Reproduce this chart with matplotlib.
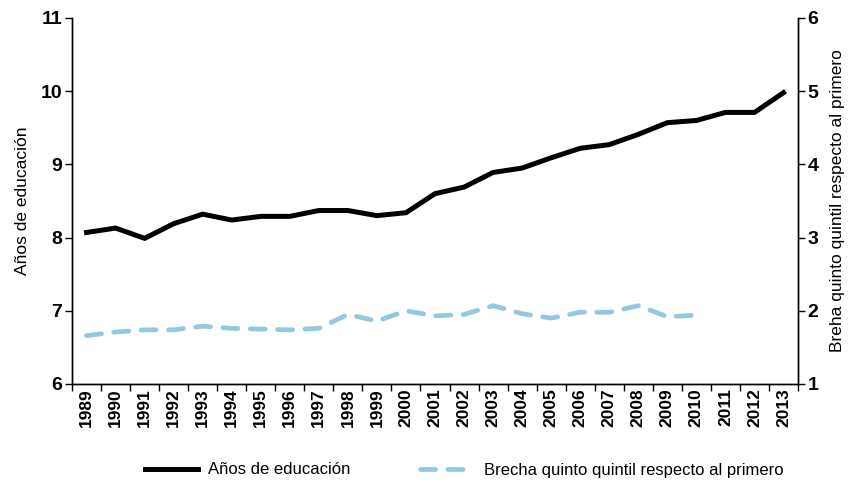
import numpy as np
import matplotlib.pyplot as plt
from matplotlib.lines import Line2D

plt.rcParams['font.family'] = ['Liberation Sans', 'DejaVu Sans']

# Datos
anios = [str(a) for a in range(1989, 2014)]
educacion = [8.07, 8.13, 7.99, 8.19, 8.32, 8.24, 8.29, 8.29, 8.37, 8.37, 8.30, 8.34, 8.60,
             8.69, 8.89, 8.95, 9.09, 9.22, 9.27, 9.41, 9.57, 9.60, 9.71, 9.71, 9.98]
brecha = [1.66, 1.71, 1.74, 1.74, 1.79, 1.76, 1.75, 1.74, 1.76, 1.95, 1.86, 2.00, 1.93,
          1.95, 2.07, 1.96, 1.90, 1.98, 1.98, 2.07, 1.92, 1.94]

negro = '#000000'
celeste = '#92C9E1'

fig = plt.figure(figsize=(8.59, 4.83), dpi=100)
ax = fig.add_axes([72/859, 1-384/483, (798-72)/859, (384-18)/483])
ax2 = ax.twinx()

x = np.arange(len(anios))
ax.plot(x, educacion, color=negro, lw=3.6, solid_joinstyle='miter', zorder=3)
ax2.plot(x[:len(brecha)], brecha, color=celeste, lw=3.4, dashes=(3.2, 2.6),
         dash_capstyle='round', zorder=2)

ax.set_xlim(-0.5, len(anios) - 0.5)
ax.set_ylim(6, 11)
ax2.set_ylim(1, 6)

# ticks en los bordes de las categorías, etiquetas en el centro
ax.set_xticks(np.arange(-0.5, len(anios)), labels=[])
ax.set_xticks(x, labels=anios, minor=True, rotation=90, fontweight='bold', fontsize=12.5)
ax.tick_params(axis='x', which='major', length=5, width=1, direction='out')
ax.tick_params(axis='x', which='minor', length=0, pad=3)

ax.set_yticks(range(6, 12))
ax.set_yticklabels([str(v) for v in range(6, 12)], fontweight='bold', fontsize=14)
ax2.set_yticks(range(1, 7))
ax2.set_yticklabels([str(v) for v in range(1, 7)], fontweight='bold', fontsize=14)
ax.tick_params(axis='y', length=5, width=1, pad=2)
ax2.tick_params(axis='y', length=5, width=1, pad=2)

for a in (ax, ax2):
    a.spines['top'].set_visible(False)
    for s in a.spines.values():
        s.set_linewidth(1)

ax.set_ylabel('Años de educación', fontsize=12.5, labelpad=8)
ax2.set_ylabel('Breha quinto quintil respecto al primero', fontsize=12.5, labelpad=8)

handles = [Line2D([], [], color=negro, lw=3.6),
           Line2D([], [], color=celeste, lw=3.4, dashes=(3.2, 2.6), dash_capstyle='round')]
fig.legend(handles, ['Años de educación', 'Brecha quinto quintil respecto al primero'],
           loc='center', bbox_to_anchor=(0.54, 1-470/483), ncol=2, frameon=False,
           fontsize=12, handlelength=3.2, handletextpad=0.6, columnspacing=4.2)

fig.savefig('out.png', dpi=100)
